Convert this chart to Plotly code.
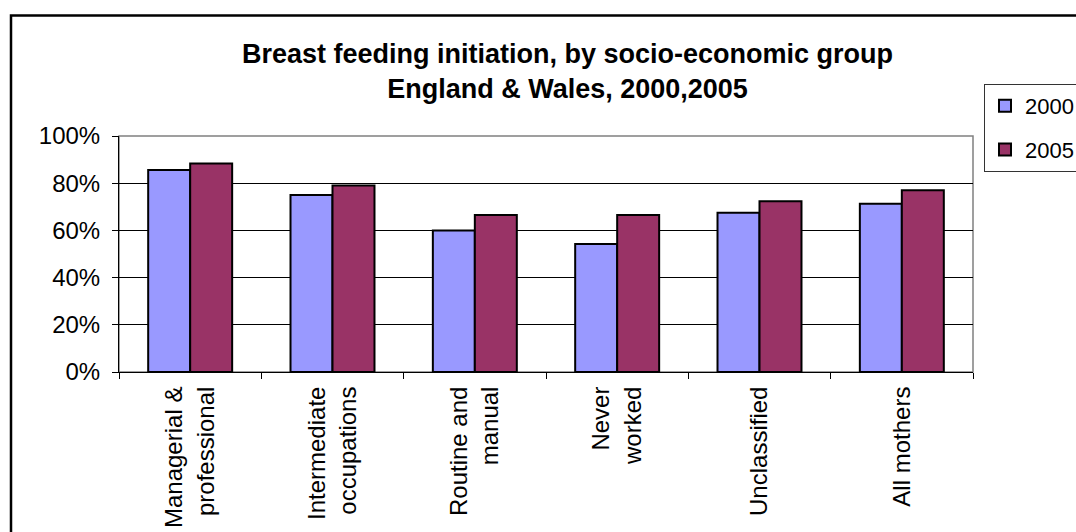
import plotly.graph_objects as go

categories = ["Managerial &<br>professional", "Intermediate<br>occupations", "Routine and<br>manual",
              "Never<br>worked", "Unclassified", "All mothers"]
series_names = ["2000", "2005"]
values_2000 = [0.856, 0.75, 0.60, 0.542, 0.675, 0.713]
values_2005 = [0.884, 0.79, 0.665, 0.665, 0.723, 0.77]
colors = ["#9999FF", "#993366"]
title_text = "Breast feeding initiation, by socio-economic group<br>England & Wales, 2000,2005"

W, H = 1076, 532
L, R, T, B = 119, 103, 136, 160
pw = W - L - R
ph = H - T - B

def px(x):
    return (x - L) / pw

def py(y):
    return (H - B - y) / ph

FONT = "Liberation Sans, Arial, sans-serif"

fig = go.Figure()
for name, vals, col in zip(series_names, [values_2000, values_2005], colors):
    fig.add_trace(go.Bar(
        x=categories, y=vals, name=name, legendgroup=name,
        marker=dict(color=col, line=dict(color="black", width=2)),
    ))

fig.update_layout(
    width=W, height=H,
    margin=dict(l=L, r=R, t=T, b=B, autoexpand=False),
    paper_bgcolor="white", plot_bgcolor="white",
    font=dict(family=FONT, size=24, color="black"),
    barmode="group", bargap=0.41, bargroupgap=0,
    showlegend=True,
    legend=dict(x=px(984), y=py(84), xanchor="left", yanchor="top",
                bgcolor="white", bordercolor="#333333", borderwidth=1,
                font=dict(family=FONT, size=22, color="black"),
                tracegroupgap=12, traceorder="grouped"),
    xaxis=dict(type="category", showline=True, linecolor="black", linewidth=1,
               ticks="outside", ticklen=6, tickcolor="black", tickson="boundaries",
               tickangle=-90, showgrid=False, tickfont=dict(size=24),
               ticklabelstandoff=4),
    yaxis=dict(range=[0, 1], dtick=0.2, tickformat=".0%", showline=True,
               linecolor="black", linewidth=1, ticks="outside", ticklen=6,
               tickcolor="black", gridcolor="black", gridwidth=1,
               zeroline=False, tickfont=dict(size=24), ticklabelstandoff=7),
    annotations=[dict(text="<b>" + title_text + "</b>", xref="paper", yref="paper",
                      x=px(567), y=py(71), xanchor="center", yanchor="middle",
                      showarrow=False, font=dict(family=FONT, size=27, color="black"))],
    shapes=[
        dict(type="rect", xref="paper", yref="paper", x0=0, y0=0, x1=1, y1=1,
             line=dict(color="#808080", width=1.5), layer="below"),
        dict(type="rect", xref="paper", yref="paper", x0=px(11), y0=py(545), x1=px(1090), y1=py(15.5),
             line=dict(color="black", width=2.5), layer="above"),
    ],
)

fig.write_html("out.html", config={"displayModeBar": False},
               post_script="document.body.style.margin='0';document.body.style.overflow='hidden';")
